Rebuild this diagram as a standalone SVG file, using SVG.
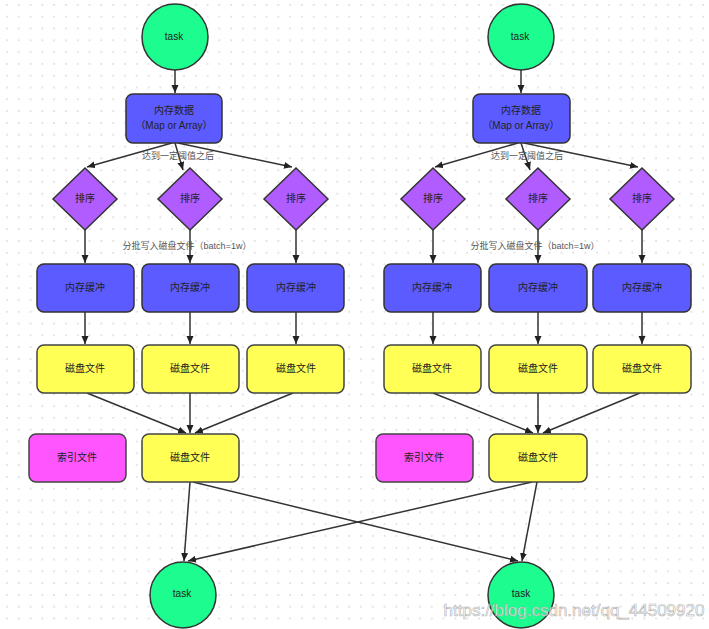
<svg xmlns="http://www.w3.org/2000/svg" width="709" height="629" viewBox="0 0 709 629">
<defs>
<pattern id="dots" x="0" y="0" width="11.8" height="11.8" patternUnits="userSpaceOnUse">
<circle cx="7" cy="5" r="1" fill="#dcdcdc"/>
</pattern>
<marker id="arr" markerWidth="9" markerHeight="8" refX="8" refY="3.5" orient="auto" markerUnits="userSpaceOnUse">
<path d="M0,0 L8,3.5 L0,7 z" fill="#222"/>
</marker>
</defs>
<style>
text{font-family:"Liberation Sans","Noto Sans CJK SC",sans-serif;fill:#222;text-anchor:middle;dominant-baseline:central}
.t{font-size:10px}
.lbl{font-size:9px;fill:#555}
.task{fill:#1dfc8e;stroke:#333;stroke-width:1.5}
.mem{fill:#5b5bff;stroke:#333;stroke-width:1.5}
.sort{fill:#b05cff;stroke:#333;stroke-width:1.5}
.disk{fill:#ffff55;stroke:#444;stroke-width:1.5}
.idx{fill:#ff55ff;stroke:#444;stroke-width:1.5}
.c line{stroke:#333;stroke-width:1.5;marker-end:url(#arr)}
</style>
<rect width="709" height="629" fill="#fff"/>
<rect width="709" height="629" fill="url(#dots)"/>

<g id="connectors" class="c">
<line x1="175" y1="70" x2="175" y2="93"/>
<line x1="172" y1="143" x2="87" y2="167"/>
<line x1="175" y1="143" x2="183" y2="170"/>
<line x1="178" y1="143" x2="292" y2="167"/>
<line x1="85" y1="230" x2="85" y2="263"/>
<line x1="190" y1="230" x2="190" y2="263"/>
<line x1="296" y1="230" x2="296" y2="263"/>
<line x1="85" y1="312" x2="85" y2="344"/>
<line x1="190" y1="312" x2="190" y2="344"/>
<line x1="296" y1="312" x2="296" y2="344"/>
<line x1="87" y1="393" x2="186" y2="433"/>
<line x1="190" y1="393" x2="190" y2="433"/>
<line x1="293" y1="393" x2="195" y2="433"/>
<line x1="190" y1="482" x2="184" y2="561"/>
<line x1="193" y1="482" x2="518" y2="561"/>

<line x1="521" y1="70" x2="521" y2="93"/>
<line x1="518" y1="143" x2="435" y2="167"/>
<line x1="521" y1="143" x2="530" y2="170"/>
<line x1="524" y1="143" x2="638" y2="167"/>
<line x1="433" y1="230" x2="433" y2="263"/>
<line x1="538" y1="230" x2="538" y2="263"/>
<line x1="642" y1="230" x2="642" y2="263"/>
<line x1="433" y1="312" x2="433" y2="344"/>
<line x1="538" y1="312" x2="538" y2="344"/>
<line x1="642" y1="312" x2="642" y2="344"/>
<line x1="433" y1="393" x2="533" y2="433"/>
<line x1="538" y1="393" x2="538" y2="433"/>
<line x1="640" y1="393" x2="543" y2="433"/>
<line x1="537" y1="482" x2="522" y2="561"/>
<line x1="532" y1="482" x2="188" y2="561"/>
</g>

<g id="labels">
<text class="lbl" x="178" y="156">达到一定阈值之后</text>
<text class="lbl" x="187" y="246">分批写入磁盘文件（batch=1w）</text>
<text class="lbl" x="527" y="156">达到一定阈值之后</text>
<text class="lbl" x="535" y="246">分批写入磁盘文件（batch=1w）</text>
</g>

<g id="task-top-left"><circle class="task" cx="175" cy="37" r="33"/><text class="t" x="174" y="36">task</text></g>
<g id="mem-left"><rect class="mem" x="126" y="94" width="96" height="49" rx="7"/><text class="t" x="174" y="110">内存数据</text><text class="t" x="174" y="125">（Map or Array）</text></g>
<g id="sort-l1"><polygon class="sort" points="85,168 117,199 85,230 53,199"/><text class="t" x="85" y="198">排序</text></g>
<g id="sort-l2"><polygon class="sort" points="190,168 222,199 190,230 158,199"/><text class="t" x="190" y="198">排序</text></g>
<g id="sort-l3"><polygon class="sort" points="296,168 328,199 296,230 264,199"/><text class="t" x="296" y="198">排序</text></g>
<g id="buf-l1"><rect class="mem" x="37" y="264" width="97" height="48" rx="7"/><text class="t" x="85" y="287">内存缓冲</text></g>
<g id="buf-l2"><rect class="mem" x="142" y="264" width="97" height="48" rx="7"/><text class="t" x="190" y="287">内存缓冲</text></g>
<g id="buf-l3"><rect class="mem" x="247" y="264" width="97" height="48" rx="7"/><text class="t" x="296" y="287">内存缓冲</text></g>
<g id="disk-l1"><rect class="disk" x="37" y="345" width="97" height="48" rx="7"/><text class="t" x="85" y="368">磁盘文件</text></g>
<g id="disk-l2"><rect class="disk" x="142" y="345" width="97" height="48" rx="7"/><text class="t" x="190" y="368">磁盘文件</text></g>
<g id="disk-l3"><rect class="disk" x="247" y="345" width="97" height="48" rx="7"/><text class="t" x="296" y="368">磁盘文件</text></g>
<g id="idx-left"><rect class="idx" x="29" y="434" width="97" height="48" rx="7"/><text class="t" x="77" y="457">索引文件</text></g>
<g id="disk-left-merged"><rect class="disk" x="142" y="434" width="97" height="48" rx="7"/><text class="t" x="190" y="457">磁盘文件</text></g>
<g id="task-bottom-left"><circle class="task" cx="183" cy="595" r="33"/><text class="t" x="182" y="593">task</text></g>

<g id="task-top-right"><circle class="task" cx="521" cy="37" r="33"/><text class="t" x="520" y="36">task</text></g>
<g id="mem-right"><rect class="mem" x="473" y="94" width="97" height="49" rx="7"/><text class="t" x="521" y="110">内存数据</text><text class="t" x="521" y="125">（Map or Array）</text></g>
<g id="sort-r1"><polygon class="sort" points="433,168 465,199 433,230 401,199"/><text class="t" x="433" y="198">排序</text></g>
<g id="sort-r2"><polygon class="sort" points="538,168 570,199 538,230 506,199"/><text class="t" x="538" y="198">排序</text></g>
<g id="sort-r3"><polygon class="sort" points="642,168 674,199 642,230 610,199"/><text class="t" x="642" y="198">排序</text></g>
<g id="buf-r1"><rect class="mem" x="384" y="264" width="97" height="48" rx="7"/><text class="t" x="432" y="287">内存缓冲</text></g>
<g id="buf-r2"><rect class="mem" x="489" y="264" width="98" height="48" rx="7"/><text class="t" x="538" y="287">内存缓冲</text></g>
<g id="buf-r3"><rect class="mem" x="593" y="264" width="98" height="48" rx="7"/><text class="t" x="642" y="287">内存缓冲</text></g>
<g id="disk-r1"><rect class="disk" x="384" y="345" width="97" height="48" rx="7"/><text class="t" x="432" y="368">磁盘文件</text></g>
<g id="disk-r2"><rect class="disk" x="489" y="345" width="98" height="48" rx="7"/><text class="t" x="538" y="368">磁盘文件</text></g>
<g id="disk-r3"><rect class="disk" x="593" y="345" width="98" height="48" rx="7"/><text class="t" x="642" y="368">磁盘文件</text></g>
<g id="idx-right"><rect class="idx" x="376" y="434" width="97" height="48" rx="7"/><text class="t" x="424" y="457">索引文件</text></g>
<g id="disk-right-merged"><rect class="disk" x="489" y="434" width="98" height="48" rx="7"/><text class="t" x="538" y="457">磁盘文件</text></g>
<g id="task-bottom-right"><circle class="task" cx="521" cy="595" r="33"/><text class="t" x="521" y="593">task</text></g>

<text x="574" y="610" style="font-size:17px;fill:#fff;fill-opacity:0.75;stroke:#999;stroke-width:0.6;stroke-opacity:0.8">https://blog.csdn.net/qq_44509920</text>
</svg>
